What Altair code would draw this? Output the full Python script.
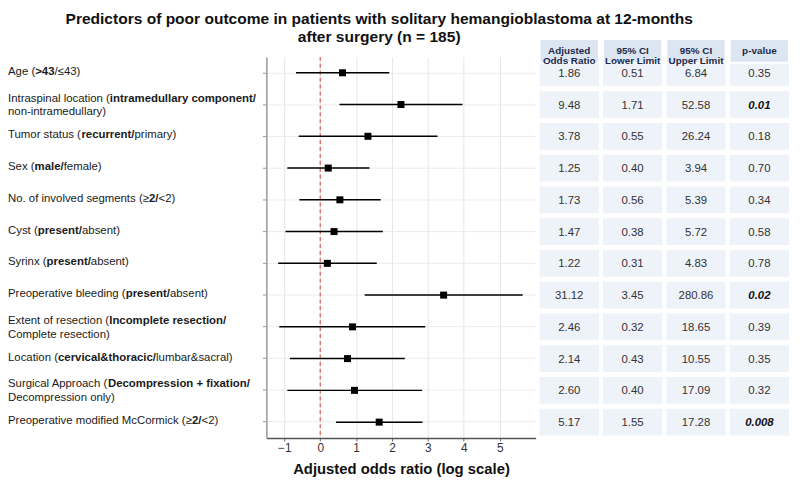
import altair as alt
import pandas as pd

FONT = "Liberation Sans"

title_lines = [
    "Predictors of poor outcome in patients with solitary hemangioblastoma at 12-months",
    "after surgery (n = 185)",
]
row_keys = [
    "Age", "Intraspinal location", "Tumor status", "Sex", "No. of involved segments",
    "Cyst", "Syrinx", "Preoperative bleeding", "Extent of resection", "Location",
    "Surgical Approach", "Preoperative modified McCormick",
]
odds_ratio = [1.86, 9.48, 3.78, 1.25, 1.73, 1.47, 1.22, 31.12, 2.46, 2.14, 2.60, 5.17]
ci_lower = [0.51, 1.71, 0.55, 0.40, 0.56, 0.38, 0.31, 3.45, 0.32, 0.43, 0.40, 1.55]
ci_upper = [6.84, 52.58, 26.24, 3.94, 5.39, 5.72, 4.83, 280.86, 18.65, 10.55, 17.09, 17.28]
p_values = ["0.35", "0.01", "0.18", "0.70", "0.34", "0.58", "0.78", "0.02", "0.39", "0.35", "0.32", "0.008"]
significant = [0, 1, 0, 0, 0, 0, 0, 1, 0, 0, 0, 1]
x_ticks = [-1, 0, 1, 2, 3, 4, 5]
header_labels = ["Adjusted\nOdds Ratio", "95% CI\nLower Limit", "95% CI\nUpper Limit", "p-value"]
x_title = "Adjusted odds ratio (log scale)"

# label text: lines of (segment, bold)
label_lines = [
    [[("Age (", 0), (">43", 1), ("/≤43)", 0)]],
    [[("Intraspinal location (", 0), ("intramedullary component/", 1)], [("non-intramedullary)", 0)]],
    [[("Tumor status (", 0), ("recurrent/", 1), ("primary)", 0)]],
    [[("Sex (", 0), ("male/", 1), ("female)", 0)]],
    [[("No. of involved segments (≥", 0), ("2/", 1), ("<2)", 0)]],
    [[("Cyst (", 0), ("present/", 1), ("absent)", 0)]],
    [[("Syrinx (", 0), ("present/", 1), ("absent)", 0)]],
    [[("Preoperative bleeding (", 0), ("present/", 1), ("absent)", 0)]],
    [[("Extent of resection (", 0), ("Incomplete resection/", 1)], [("Complete resection)", 0)]],
    [[("Location (", 0), ("cervical&thoracic/", 1), ("lumbar&sacral)", 0)]],
    [[("Surgical Approach (", 0), ("Decompression + fixation/", 1)], [("Decompression only)", 0)]],
    [[("Preoperative modified McCormick (≥", 0), ("2/", 1), ("<2)", 0)]],
]

# Helvetica / Arial advance widths (1/1000 em) used to place bold runs after normal runs
REG = {" ": 278, "(": 333, ")": 333, "/": 278, "&": 667, "+": 584, "<": 584, ">": 584,
       "≤": 549, "≥": 549, ".": 278, "-": 333,
       "A": 667, "C": 722, "D": 722, "E": 667, "I": 278, "L": 556, "M": 833, "N": 722,
       "P": 667, "R": 722, "S": 667, "T": 611,
       "a": 556, "b": 556, "c": 500, "d": 556, "e": 556, "f": 278, "g": 556, "h": 556,
       "i": 222, "j": 222, "k": 500, "l": 222, "m": 833, "n": 556, "o": 556, "p": 556,
       "q": 556, "r": 333, "s": 500, "t": 278, "u": 556, "v": 500, "w": 722, "x": 500,
       "y": 500, "z": 500}
BOLD = {" ": 278, "(": 333, ")": 333, "/": 278, "&": 722, "+": 584, "<": 584, ">": 584,
        "≤": 549, "≥": 549, ".": 278, "-": 333,
        "A": 722, "C": 722, "D": 722, "E": 667, "I": 278, "L": 611, "M": 833, "N": 722,
        "P": 667, "R": 722, "S": 667, "T": 611,
        "a": 556, "b": 611, "c": 556, "d": 611, "e": 556, "f": 333, "g": 611, "h": 611,
        "i": 278, "j": 278, "k": 556, "l": 278, "m": 889, "n": 611, "o": 611, "p": 611,
        "q": 611, "r": 389, "s": 556, "t": 333, "u": 611, "v": 556, "w": 778, "x": 556,
        "y": 556, "z": 500}
FS = 11.5


def text_width(s, bold):
    table = BOLD if bold else REG
    return sum(table.get(ch, 556) for ch in s) * FS / 1000.0


seg_rows = []
for key, lines in zip(row_keys, label_lines):
    for li, line in enumerate(lines):
        off = 0.0
        for txt, b in line:
            seg_rows.append({"row": key, "line": li, "nlines": len(lines), "x": off,
                             "text": txt, "bold": b})
            off += text_width(txt, b)
seg_df = pd.DataFrame(seg_rows)

H = 385
yscale = alt.Scale(domain=row_keys, paddingInner=0.16, paddingOuter=0.08)

# ---------- labels panel ----------
lbase = alt.Chart(seg_df)
llayers = []
for b in (0, 1):
    for nl, li, dy in ((1, 0, -1), (2, 0, -6), (2, 1, 8)):
        llayers.append(
            lbase.transform_filter(
                f"datum.bold == {b} && datum.nlines == {nl} && datum.line == {li}"
            ).mark_text(
                align="left", baseline="middle", fontSize=FS, font=FONT,
                fontWeight="bold" if b else "normal", dy=dy, color="#1a1a1a",
            ).encode(
                x=alt.X("x:Q", scale=None),
                y=alt.Y("row:N", scale=yscale, axis=None),
                text="text:N",
            )
        )
labels = alt.layer(*llayers).properties(width=253, height=H)

# ---------- forest panel ----------
fdf = pd.DataFrame({"row": row_keys, "or": odds_ratio, "lo": ci_lower, "hi": ci_upper})
fbase = alt.Chart(fdf).transform_calculate(
    lor="log(datum.or)", llo="log(datum.lo)", lhi="log(datum.hi)"
)
xs = alt.Scale(domain=[-1.5, 6], nice=False, zero=False)
xaxis = alt.Axis(
    values=x_ticks, labelFontSize=12, labelColor="#333", labelFont=FONT,
    tickSize=3, tickColor="#666", domainColor="#555", domainWidth=1.5,
    grid=True, gridColor="#e6e6e6", labelPadding=2,
    titleFontSize=15, titleFontWeight="bold", titleColor="#111", titleFont=FONT,
    titlePadding=8,
)
yaxis = alt.Axis(
    labels=False, title=None, ticks=True, tickSize=4, tickColor="#999",
    domainColor="#999", domainWidth=1.5, grid=True, gridColor="#ececec",
)
zero_df = pd.DataFrame({"v": [0]})
ref = alt.Chart(zero_df).mark_rule(color="#d9534f", strokeDash=[4, 3], strokeWidth=1.1).encode(
    x=alt.X("v:Q", scale=xs, axis=xaxis, title=x_title)
)
ci = fbase.mark_rule(color="black", strokeWidth=1.5).encode(
    x=alt.X("llo:Q", scale=xs, axis=xaxis, title=x_title),
    x2="lhi:Q",
    y=alt.Y("row:N", scale=yscale, axis=yaxis),
)
pts = fbase.mark_square(size=50, color="black", opacity=1).encode(
    x=alt.X("lor:Q", scale=xs, axis=xaxis, title=x_title),
    y=alt.Y("row:N", scale=yscale, axis=yaxis),
)
forest = alt.layer(ref, ci, pts).properties(width=272, height=H)

# ---------- table panel ----------
cell_rows = []
for i, key in enumerate(row_keys):
    vals = [f"{odds_ratio[i]:.2f}", f"{ci_lower[i]:.2f}", f"{ci_upper[i]:.2f}", p_values[i]]
    for j, col in enumerate(header_labels):
        sig = significant[i] if j == 3 else 0
        cell_rows.append({"row": key, "col": col, "text": vals[j], "sig": sig})
cell_df = pd.DataFrame(cell_rows)
head_df = pd.DataFrame({"col": header_labels})

xband = alt.Scale(domain=header_labels, paddingInner=0.065, paddingOuter=0)
cbase = alt.Chart(cell_df)
cells = cbase.mark_rect(fill="#eef2f9").encode(
    x=alt.X("col:N", scale=xband, axis=None),
    y=alt.Y("row:N", scale=yscale, axis=None),
)
ctext = cbase.transform_filter("datum.sig == 0").mark_text(
    fontSize=11.5, font=FONT, color="#333", baseline="middle", dy=1
).encode(
    x=alt.X("col:N", scale=xband, axis=None),
    y=alt.Y("row:N", scale=yscale, axis=None),
    text="text:N",
)
csig = cbase.transform_filter("datum.sig == 1").mark_text(
    fontSize=11.5, font=FONT, color="#111", baseline="middle", dy=1,
    fontWeight="bold", fontStyle="italic",
).encode(
    x=alt.X("col:N", scale=xband, axis=None),
    y=alt.Y("row:N", scale=yscale, axis=None),
    text="text:N",
)
hbase = alt.Chart(head_df)
hrect = hbase.mark_rect(fill="#dce5f2", stroke="white", strokeWidth=2).encode(
    x=alt.X("col:N", scale=xband, axis=None),
    y=alt.value(-18), y2=alt.value(6),
)
htext = hbase.mark_text(
    fontSize=10, font=FONT, fontWeight="bold", color="#1c2b4a",
    lineBreak="\n", lineHeight=10.5, baseline="middle",
).encode(
    x=alt.X("col:N", scale=xband, axis=None),
    y=alt.value(-6),
    text="col:N",
)
table = alt.layer(cells, hrect, ctext, csig, htext).properties(width=252, height=H)

chart = alt.hconcat(labels, forest, table, spacing=3).properties(
    title=alt.Title(
        title_lines, fontSize=15.7, fontWeight="bold", anchor="middle", frame="bounds",
        offset=-8, dx=-20, lineHeight=19, color="#111", font=FONT,
    ),
    padding={"left": 0, "right": 2, "top": 0, "bottom": 0},
).configure_view(stroke=None)

chart.save("out.html", embed_options={"renderer": "svg", "actions": False})
